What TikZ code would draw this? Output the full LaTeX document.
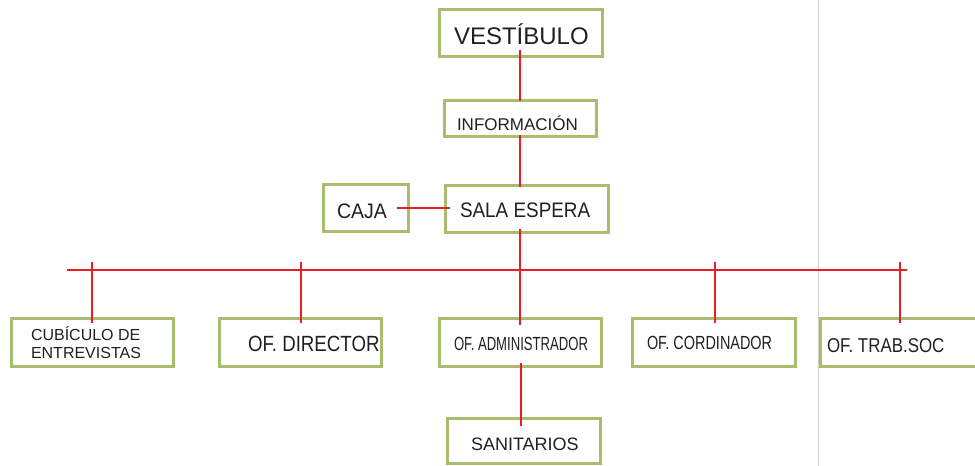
\documentclass[tikz,border=0pt]{standalone}
\usepackage{fontspec}
\setmainfont{Liberation Sans}
\usepackage{graphicx}
\definecolor{boxgreen}{HTML}{A9BD6E}
\definecolor{wirered}{HTML}{ED1C24}
\definecolor{inkgray}{HTML}{231F20}
\definecolor{sepgray}{HTML}{CFCFCF}
\newcommand{\fs}[1]{\fontsize{#1}{#1}\selectfont}
\begin{document}
\begin{tikzpicture}[x=1pt,y=-1pt,
  box/.style={draw=boxgreen,line width=3pt,inner sep=0pt,outer sep=0pt},
  lbl/.style={inner sep=0pt,outer sep=0pt,text=inkgray,anchor=base west},
  wire/.style={draw=wirered,line width=2.8pt}]
\useasboundingbox (0,0) rectangle (975,466);
\clip (0,0) rectangle (975,466);
% separator
\draw[sepgray,line width=1pt] (818,0) -- (818,466);
% boxes
\node[box,minimum width=163pt,minimum height=47pt] (vest) at (521,33) {};
\node[box,minimum width=152pt,minimum height=36pt] (info) at (520.5,118.5) {};
\node[box,minimum width=163pt,minimum height=47pt] (sala) at (527,209) {};
\node[box,minimum width=85pt,minimum height=47pt] (caja) at (366,208) {};
\node[box,minimum width=162pt,minimum height=48pt] (cub) at (92.5,342.5) {};
\node[box,minimum width=162pt,minimum height=48pt] (dir) at (300.5,342.5) {};
\node[box,minimum width=162pt,minimum height=48pt] (adm) at (520.5,342.5) {};
\node[box,minimum width=163pt,minimum height=48pt] (cord) at (714,342.5) {};
\node[box,minimum width=169.5pt,minimum height=48pt] (trab) at (905.25,342.5) {};
\node[box,minimum width=153pt,minimum height=45pt] (sani) at (524,441) {};
% labels
\node[lbl,font=\fs{24}] (vestt) at (454,44) {VESTÍBULO};
\node[lbl,font=\fs{17}] (infot) at (457,130) {INFORMACIÓN};
\node[lbl,font=\fs{21}] (salat) at (460,217) {\scalebox{0.9}[1]{SALA ESPERA}};
\node[lbl,font=\fs{21}] (cajat) at (337,218) {\scalebox{0.93}[1]{CAJA}};
\node[lbl,font=\fs{16}] (cubt1) at (31,340) {CUBÍCULO DE};
\node[lbl,font=\fs{16}] (cubt2) at (31,358) {ENTREVISTAS};
\node[lbl,font=\fs{22}] (dirt) at (248,351) {\scalebox{0.85}[1]{OF. DIRECTOR}};
\node[lbl,font=\fs{19}] (admt) at (454,350) {\scalebox{0.69}[1]{OF. ADMINISTRADOR}};
\node[lbl,font=\fs{19}] (cordt) at (647,349) {\scalebox{0.76}[1]{OF. CORDINADOR}};
\node[lbl,font=\fs{20}] (trabt) at (827,352) {\scalebox{0.845}[1]{OF. TRAB.SOC}};
\node[lbl,font=\fs{18}] (sanit) at (471,450) {SANITARIOS};
% connector reference points
\coordinate (sp) at (520,0);
\coordinate (sp2) at (521,0);
\coordinate (busL) at (67,270);
\coordinate (busR) at (907,270);
\coordinate (j1) at (92,262);
\coordinate (j2) at (301,262);
\coordinate (j4) at (715,262);
\coordinate (j5) at (900,262);
% connectors
\draw[wire] ([yshift=6.5pt]vest.south -| sp) -- ([yshift=-0.5pt]info.north -| sp);
\draw[wire] ([yshift=1.5pt]info.south -| sp) -- ([yshift=-1.5pt]sala.north -| sp);
\draw[wire] ([xshift=-11.5pt]caja.east) -- ([xshift=4.5pt]caja.east -| sala.west);
\draw[wire] ([yshift=3.5pt]sala.south -| sp) -- ([yshift=-6.5pt]adm.north -| sp);
\draw[wire] (busL) -- (busR);
\draw[wire] (j1) -- ([yshift=-4pt]j1 |- cub.north);
\draw[wire] (j2) -- ([yshift=-4pt]j2 |- dir.north);
\draw[wire] (j4) -- ([yshift=-4pt]j4 |- cord.north);
\draw[wire] (j5) -- ([yshift=-4pt]j5 |- trab.north);
\draw[wire] ([yshift=3.5pt]adm.south -| sp2) -- ([yshift=-7.5pt]sani.north -| sp2);
\end{tikzpicture}
\end{document}
